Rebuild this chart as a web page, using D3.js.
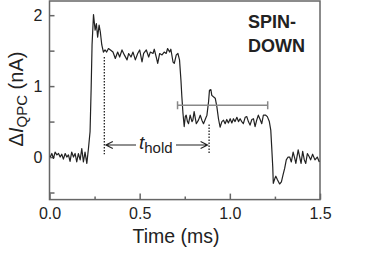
<!DOCTYPE html>
<html lang="en">
<head>
  <meta charset="UTF-8">
  <title>Spin-down QPC trace</title>
  <script src="https://d3js.org/d3.v7.min.js"></script>
  <style>
    body { margin: 0; background: #fff; }
    text { font-family: "Liberation Sans", Arial, sans-serif; fill: #222; }
    .axis path, .axis line { stroke: #666; stroke-width: 1.5; }
    .axis text { font-size: 16px; fill: #222; }
  </style>
</head>
<body>
  <div id="chart"></div>

  <script>
    // trace (time in ms, current in nA)
    const times = [
      0.004, 0.013, 0.022, 0.031, 0.041, 0.050, 0.059, 0.068, 0.077, 0.087,
      0.096, 0.105, 0.114, 0.123, 0.133, 0.142, 0.151, 0.160, 0.170, 0.179,
      0.188, 0.197, 0.207, 0.216, 0.225, 0.231, 0.236, 0.244, 0.253, 0.260,
      0.267, 0.275, 0.282, 0.290, 0.299, 0.308, 0.317, 0.327, 0.338, 0.352,
      0.365, 0.378, 0.389, 0.402, 0.415, 0.430, 0.439, 0.452, 0.463, 0.476,
      0.489, 0.500, 0.513, 0.522, 0.537, 0.550, 0.559, 0.574, 0.581, 0.592,
      0.600, 0.611, 0.624, 0.636, 0.647, 0.655, 0.666, 0.673, 0.685, 0.692,
      0.703, 0.712, 0.721, 0.729, 0.734, 0.740, 0.747, 0.753, 0.758, 0.765,
      0.771, 0.780, 0.790, 0.795, 0.802, 0.814, 0.826, 0.836, 0.845, 0.854,
      0.865, 0.873, 0.882, 0.887, 0.895, 0.900, 0.909, 0.919, 0.928, 0.937,
      0.946, 0.956, 0.965, 0.974, 0.983, 0.992, 1.002, 1.011, 1.020, 1.029,
      1.039, 1.048, 1.057, 1.066, 1.075, 1.085, 1.094, 1.103, 1.112, 1.122,
      1.131, 1.140, 1.149, 1.158, 1.168, 1.177, 1.186, 1.199, 1.208, 1.219,
      1.227, 1.232, 1.238, 1.241, 1.250, 1.255, 1.264, 1.276, 1.286, 1.295,
      1.304, 1.313, 1.323, 1.332, 1.341, 1.351, 1.360, 1.366, 1.379, 1.389,
      1.395, 1.404, 1.413, 1.421, 1.430, 1.441, 1.448, 1.459, 1.472, 1.485,
      1.496
    ];
    const current = [
      0.00, 0.05, -0.02, 0.07, 0.03, 0.05, 0.00, 0.04, -0.03, 0.05,
      0.00, 0.03, -0.06, 0.07, 0.00, 0.05, -0.07, 0.05, -0.04, 0.12,
      -0.07, 0.07, -0.09, 0.12, 0.36, 0.97, 1.58, 2.01, 1.79, 1.88,
      1.69, 1.86, 1.76, 1.58, 1.48, 1.51, 1.48, 1.53, 1.51, 1.48,
      1.39, 1.48, 1.41, 1.51, 1.44, 1.37, 1.46, 1.41, 1.48, 1.37,
      1.46, 1.51, 1.34, 1.46, 1.51, 1.41, 1.48, 1.46, 1.52, 1.41,
      1.32, 1.46, 1.44, 1.48, 1.46, 1.53, 1.48, 1.52, 1.34, 1.32,
      1.44, 1.46, 1.37, 1.08, 0.85, 0.62, 0.43, 0.57, 0.59, 0.50,
      0.47, 0.59, 0.50, 0.52, 0.64, 0.47, 0.52, 0.59, 0.52, 0.47,
      0.54, 0.59, 0.78, 0.94, 0.95, 0.87, 0.85, 0.83, 0.71, 0.54,
      0.42, 0.50, 0.52, 0.47, 0.53, 0.48, 0.54, 0.48, 0.54, 0.50,
      0.56, 0.50, 0.54, 0.50, 0.47, 0.56, 0.57, 0.50, 0.45, 0.53,
      0.54, 0.43, 0.52, 0.59, 0.53, 0.47, 0.59, 0.59, 0.57, 0.50,
      0.38, 0.15, -0.14, -0.37, -0.30, -0.27, -0.32, -0.38, -0.35, -0.25,
      -0.16, -0.04, 0.00, 0.00, -0.07, 0.07, -0.02, -0.09, 0.10, -0.02,
      -0.09, 0.08, -0.04, -0.09, 0.05, 0.00, -0.04, 0.04, -0.04, 0.00,
      -0.07
    ];

    const xTicks = [0, 0.5, 1.0, 1.5];
    const xMinor = [0.25, 0.75, 1.25];
    const yTicks = [0, 1, 2];
    const yMinor = [-0.5, 0.5, 1.5];

    // annotations (data units)
    const holdStart = 0.304, holdEnd = 0.885, holdLevel = 0.17;
    const holdTops = [1.41, 0.46], holdBottom = 0.04;
    const threshold = { from: 0.71, to: 1.21, level: 0.73 };

    const W = 374, H = 253;
    const x = d3.scaleLinear().domain([0, 1.5]).range([49.5, 320]);
    const y = d3.scaleLinear().domain([-0.6, 2.2]).range([199.6, 1]);

    const svg = d3.select("#chart").append("svg")
      .attr("width", W).attr("height", H);

    // frame
    svg.append("rect")
      .attr("x", x(0)).attr("y", y(2.2))
      .attr("width", x(1.5) - x(0)).attr("height", y(-0.6) - y(2.2))
      .attr("fill", "none").attr("stroke", "#666").attr("stroke-width", 1.5);

    const gx = svg.append("g").attr("class", "axis")
      .attr("transform", `translate(0,${y(-0.6)})`)
      .call(d3.axisBottom(x).tickValues(xTicks).tickSize(-6).tickPadding(8)
        .tickFormat(d3.format(".1f")));
    svg.append("g").attr("class", "axis")
      .attr("transform", `translate(0,${y(-0.6)})`)
      .call(d3.axisBottom(x).tickValues(xMinor).tickSize(-3).tickFormat(""));

    const gy = svg.append("g").attr("class", "axis")
      .attr("transform", `translate(${x(0)},0)`)
      .call(d3.axisLeft(y).tickValues(yTicks).tickSize(-5).tickPadding(7)
        .tickFormat(d3.format("d")));
    svg.append("g").attr("class", "axis")
      .attr("transform", `translate(${x(0)},0)`)
      .call(d3.axisLeft(y).tickValues(yMinor).tickSize(-5).tickFormat(""));

    svg.selectAll(".axis .domain").remove();

    // trace
    const line = d3.line().x((d, i) => x(times[i])).y(d => y(d));
    svg.append("path")
      .datum(current)
      .attr("d", line)
      .attr("fill", "none")
      .attr("stroke", "#222")
      .attr("stroke-width", 1.2)
      .attr("stroke-linejoin", "round");

    // threshold bar
    const tb = svg.append("g").attr("stroke", "#888").attr("stroke-width", 1.5);
    tb.append("line")
      .attr("x1", x(threshold.from)).attr("x2", x(threshold.to))
      .attr("y1", y(threshold.level)).attr("y2", y(threshold.level));
    [threshold.from, threshold.to].forEach(t => {
      tb.append("line")
        .attr("x1", x(t)).attr("x2", x(t))
        .attr("y1", y(threshold.level) - 4).attr("y2", y(threshold.level) + 4);
    });

    // dotted markers
    [holdStart, holdEnd].forEach((t, i) => {
      svg.append("line")
        .attr("x1", x(t)).attr("x2", x(t))
        .attr("y1", y(holdTops[i])).attr("y2", y(holdBottom))
        .attr("stroke", "#222").attr("stroke-width", 1.3)
        .attr("stroke-dasharray", "1.5,1.5");
    });

    // t_hold arrows
    const ay = y(holdLevel);
    const ar = svg.append("g").attr("stroke", "#222").attr("stroke-width", 1.1)
      .attr("fill", "none");
    const xl = x(holdStart) + 1.5, xr = x(holdEnd) - 1.5;
    ar.append("path").attr("d", `M${xl},${ay}H136 M${xl + 7},${ay - 3.5}L${xl},${ay}L${xl + 7},${ay + 3.5}`);
    ar.append("path").attr("d", `M176,${ay}H${xr} M${xr - 7},${ay - 3.5}L${xr},${ay}L${xr - 7},${ay + 3.5}`);

    const lbl = svg.append("text").attr("x", 139).attr("y", 149);
    lbl.append("tspan").text("t").attr("font-style", "italic").attr("font-size", 19);
    lbl.append("tspan").text("hold").attr("font-size", 15).attr("dy", 4);

    // spin-down label
    svg.append("text").attr("x", 248).attr("y", 28)
      .attr("font-size", 18).attr("font-weight", "bold").text("SPIN-");
    svg.append("text").attr("x", 248).attr("y", 52)
      .attr("font-size", 18).attr("font-weight", "bold").text("DOWN");

    // axis titles
    svg.append("text").attr("x", 176).attr("y", 243)
      .attr("text-anchor", "middle").attr("font-size", 19.5).text("Time (ms)");

    const yl = svg.append("text")
      .attr("transform", "translate(23,99) rotate(-90)")
      .attr("text-anchor", "middle").attr("font-size", 20);
    yl.append("tspan").text("Δ");
    yl.append("tspan").text("I").attr("font-style", "italic");
    yl.append("tspan").text("QPC").attr("font-size", 15).attr("dy", 4);
    yl.append("tspan").text(" (nA)").attr("dy", -4);
  </script>
</body>
</html>
